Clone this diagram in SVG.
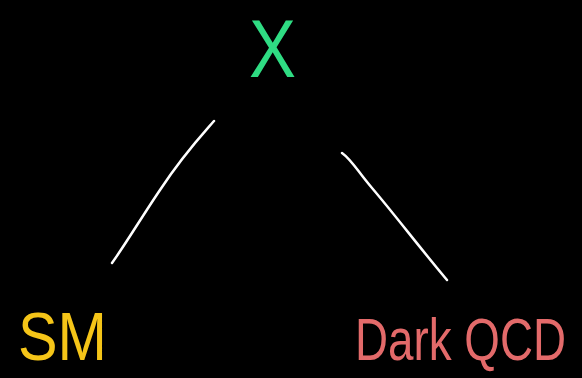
<svg xmlns="http://www.w3.org/2000/svg" width="582" height="378" viewBox="0 0 582 378">
<style>
.lbl{font-family:"Liberation Sans","DejaVu Sans",sans-serif;font-weight:normal}
.edge{fill:none;stroke:#ffffff;stroke-width:2.5;stroke-linecap:round;stroke-linejoin:round}
</style>
<rect width="582" height="378" fill="#000000"/>
<g id="connectors">
<path class="edge" d="M214,121 C200,137 183,155 160,190 C143,215 125,245 112,263"/>
<path class="edge" d="M342,153 C352,160 358,172 372,188 C395,215 420,248 447,280"/>
</g>
<g id="node-x">
<text class="lbl" x="249" y="77" font-size="82" fill="#2fdc83" textLength="47" lengthAdjust="spacingAndGlyphs">X</text>
</g>
<g id="node-sm">
<text class="lbl" x="18" y="360" font-size="68" fill="#f5c518" textLength="89" lengthAdjust="spacingAndGlyphs">SM</text>
</g>
<g id="node-darkqcd">
<text class="lbl" transform="translate(355,360) scale(0.763,1)" x="0" y="0" font-size="60" fill="#e36a6a">Dark QCD</text>
</g>
</svg>
